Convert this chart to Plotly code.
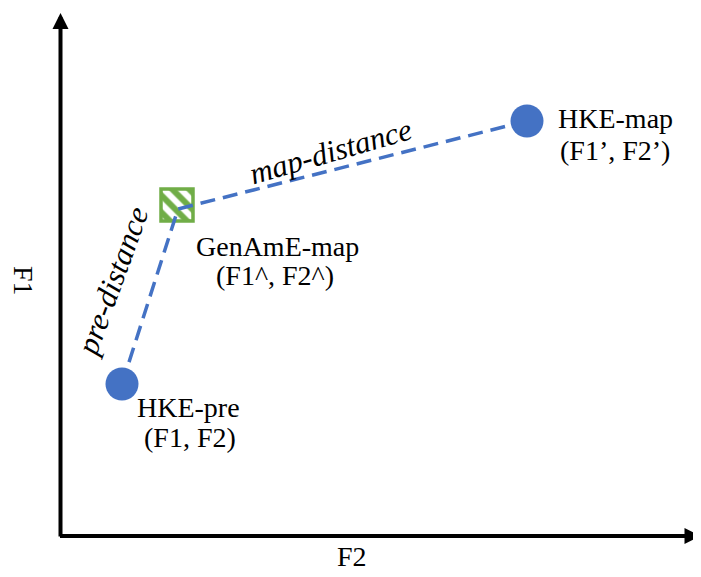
import plotly.graph_objects as go

# Data (arbitrary F2 / F1 units, origin at the axes corner)
point_names = ["HKE-pre", "GenAmE-map", "HKE-map"]
f2_values = [61.5, 117.5, 466.5]
f1_values = [152, 327, 415]
name_lines = ["HKE-pre", "GenAmE-map", "HKE-map"]
coord_lines = ["(F1, F2)", "(F1^, F2^)", "(F1’, F2’)"]
distance_labels = ["pre-distance", "map-distance"]
axis_titles = ["F2", "F1"]

BLUE = "#4472C4"
GREEN = "#70AD47"
FONT = "Liberation Serif, Times New Roman, serif"

fig = go.Figure()

# GenAmE-map hatched square (bar with pattern)
sq = 32
fig.add_trace(go.Bar(
    x=[f2_values[1] - 1], y=[sq], base=[f1_values[1] + 4 - sq / 2], width=[sq],
    marker=dict(color="white", line=dict(color=GREEN, width=3.5),
                pattern=dict(shape="\\", fgcolor=GREEN, bgcolor="white", size=12,
                             solidity=0.5, fgopacity=1)),
    hoverinfo="skip", showlegend=False))

# dashed connection
fig.add_trace(go.Scatter(
    x=f2_values, y=f1_values, mode="lines",
    line=dict(color=BLUE, width=3.5, dash="15px,8px"),
    hoverinfo="skip", showlegend=False))

# HKE points
fig.add_trace(go.Scatter(
    x=[f2_values[0], f2_values[2]], y=[f1_values[0], f1_values[2]], mode="markers",
    marker=dict(color=BLUE, size=33, line=dict(width=0)),
    hoverinfo="skip", showlegend=False))

ann = []
# axes with arrows
ann.append(dict(x=0, y=523, ax=0, ay=-2, xref="x", yref="y", axref="x", ayref="y",
                text="", showarrow=True, arrowhead=2, arrowsize=0.8, arrowwidth=4,
                arrowcolor="black", standoff=0, startstandoff=0))
ann.append(dict(x=640, y=0, ax=-2, ay=0, xref="x", yref="y", axref="x", ayref="y",
                text="", showarrow=True, arrowhead=2, arrowsize=0.8, arrowwidth=4,
                arrowcolor="black", standoff=0, startstandoff=0))

name_pos = [(127.5, 128.5), (216.5, 290), (554.5, 417.5)]
coord_pos = [(129.5, 98.5), (214.5, 261), (554.5, 385.5)]
for (lx, ly), txt in zip(name_pos, name_lines):
    ann.append(dict(x=lx, y=ly, xref="x", yref="y", text=txt, showarrow=False,
                    xanchor="center", yanchor="middle",
                    font=dict(family=FONT, size=28, color="black")))
for (lx, ly), txt in zip(coord_pos, coord_lines):
    ann.append(dict(x=lx, y=ly, xref="x", yref="y", text=txt, showarrow=False,
                    xanchor="center", yanchor="middle",
                    font=dict(family=FONT, size=28, color="black")))

ann.append(dict(x=51.5, y=255, xref="x", yref="y", text="<i>" + distance_labels[0] + "</i>",
                showarrow=False, textangle=-70, xanchor="center", yanchor="middle",
                font=dict(family=FONT, size=31, color="black")))
ann.append(dict(x=269.5, y=385, xref="x", yref="y", text="<i>" + distance_labels[1] + "</i>",
                showarrow=False, textangle=-16, xanchor="center", yanchor="middle",
                font=dict(family=FONT, size=31, color="black")))

ann.append(dict(x=291.5, y=-20, xref="x", yref="y", text=axis_titles[0], showarrow=False,
                xanchor="center", yanchor="middle", font=dict(family=FONT, size=28, color="black")))
ann.append(dict(x=-36.5, y=255, xref="x", yref="y", text=axis_titles[1], showarrow=False,
                textangle=90, xanchor="center", yanchor="middle",
                font=dict(family=FONT, size=28, color="black")))

fig.update_layout(
    width=693, height=569,
    margin=dict(l=0, r=0, t=0, b=0),
    paper_bgcolor="white", plot_bgcolor="white",
    xaxis=dict(range=[-52.5, 640.5], visible=False, fixedrange=True),
    yaxis=dict(range=[-41, 528], visible=False, fixedrange=True),
    annotations=ann,
    showlegend=False,
)

fig.write_html("out.html")
